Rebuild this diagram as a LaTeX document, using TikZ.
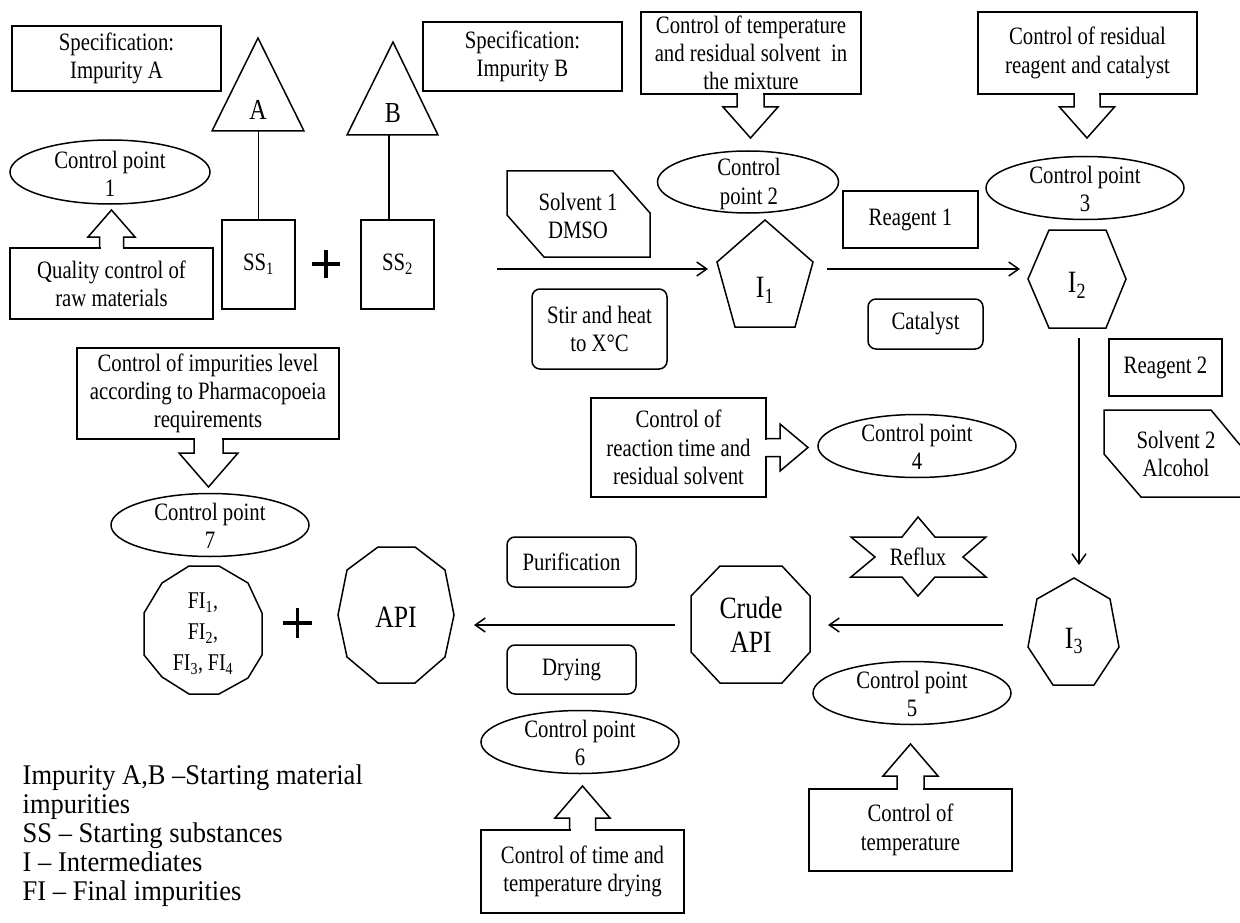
\documentclass[tikz,border=0pt]{standalone}
\usepackage{fontspec}
\setmainfont{Liberation Serif}
\newfontfamily\nf[FakeStretch=0.83]{Liberation Serif}
\newfontfamily\lf[FakeStretch=0.93]{Liberation Serif}
\usetikzlibrary{shapes.geometric,arrows.meta}
% vertical block arrow: cx, y at box edge, y head base, y tip, shaft half, head half
\newcommand{\vbarrow}[6]{%
  \fill[white] ({#1-#5+1},{#2-1.3}) rectangle ({#1+#5-1},{#2+1.3});
  \draw ({#1-#5},#2) -- ({#1-#5},#3) -- ({#1-#6},#3) -- (#1,#4) -- ({#1+#6},#3) -- ({#1+#5},#3) -- ({#1+#5},#2);}
% horizontal block arrow: cy, x at box edge, x head base, x tip, shaft half, head half
\newcommand{\hbarrow}[6]{%
  \fill[white] ({#2-1.3},{#1-#5+1}) rectangle ({#2+1.3},{#1+#5-1});
  \draw (#2,{#1-#5}) -- (#3,{#1-#5}) -- (#3,{#1-#6}) -- (#4,#1) -- (#3,{#1+#6}) -- (#3,{#1+#5}) -- (#2,{#1+#5});}
\begin{document}
\begin{tikzpicture}[x=1pt,y=-1pt, line width=1.5pt, line join=miter,
  txt/.style={font=\nf\fontsize{25}{28.3}\selectfont, align=center, inner sep=0pt},
  big/.style={font=\nf\fontsize{31}{34}\selectfont, align=center, inner sep=0pt},
  box/.style={draw, rectangle, inner sep=0pt, txt},
  rbox/.style={box, rounded corners=8pt},
  cpell/.style={draw, ellipse, inner sep=0pt, minimum width=198pt, minimum height=63pt},
  arr/.style={-{Straight Barb[length=10pt,width=14pt]}, line width=1.5pt},
  plus/.style={line width=3.5pt},
]
\useasboundingbox (0,0) rectangle (1240,923);

% ---- top left: specifications, starting substances
\node[box, minimum width=209pt, minimum height=65pt] (specA) at (116.5,58.5) {Specification:\\Impurity A};
\node[box, minimum width=199pt, minimum height=69pt] (specB) at (522.5,56.5) {Specification:\\Impurity B};

\draw (258,38) -- (304,131) -- (212,131) -- cycle;
\node[big, font=\nf\fontsize{29}{32}\selectfont] (tA) at (258,110) {A};
\draw (393,42) -- (438,135) -- (347,135) -- cycle;
\node[big, font=\nf\fontsize{29}{32}\selectfont] (tB) at (393,113) {B};

\node[box, minimum width=73pt, minimum height=89pt] (ss1) at (258.5,264.5) {SS\textsubscript{1}};
\node[box, minimum width=73pt, minimum height=89pt] (ss2) at (397.5,264.5) {SS\textsubscript{2}};
\coordinate (tAb) at (258.5,131);
\coordinate (tBb) at (389,135);
\draw (tAb) -- (ss1.north);
\draw (tBb) -- (tBb |- ss2.north);
\draw[plus] (312,264) -- (340,264) (326,250) -- (326,278);

\node[cpell, minimum width=200pt, minimum height=64pt] (cp1) at (110,172) {};
\node[txt] (cp1t) at (110,174) {Control point\\1};
\node[box, minimum width=203pt, minimum height=71pt] (qc) at (111.5,283.5) {Quality control of\\raw materials};
\vbarrow{111.5}{248}{237}{210}{12}{23.5}

% ---- top middle
\node[box, minimum width=220pt, minimum height=82pt] (tempbox) at (751,53) {Control of temperature\\and residual solvent\ \ in\\the mixture};
\vbarrow{750.5}{94}{107}{138}{13.5}{27.5}
\node[cpell, minimum width=181pt, minimum height=62pt] (cp2) at (748,182) {};
\node[txt] (cp2t) at (749,184) {Control\\point 2};

\draw (507,171) -- (613,171) -- (650,213) -- (650,257) -- (544,257) -- (507,215) -- cycle;
\node[txt] (solv1) at (578,216) {Solvent 1\\DMSO};
\node[rbox, minimum width=135pt, minimum height=80pt] (stir) at (599.5,329) {Stir and heat\\to X°C};

\draw (765,220) -- (813,262) -- (795,327) -- (735,327) -- (717,262) -- cycle;
\node[big] (i1) at (765,290) {I\textsubscript{1}};
\coordinate (s0) at (497,269);
\coordinate (i1w) at (708,269);
\draw[arr] (s0) -- (i1w);

\node[box, minimum width=135pt, minimum height=57pt] (reag1) at (910.5,219.5) {Reagent 1};
\node[rbox, minimum width=115pt, minimum height=50pt] (cat) at (925.5,324) {Catalyst};

% ---- top right
\node[box, minimum width=219pt, minimum height=82pt] (resbox) at (1087.5,53) {Control of residual\\reagent and catalyst};
\vbarrow{1087}{94}{107}{138}{13}{27.5}
\node[cpell] (cp3) at (1085,188) {};
\node[txt] (cp3t) at (1085,189) {Control point\\3};

\draw (1049,230) -- (1106,230) -- (1126,279) -- (1106,328) -- (1049,328) -- (1028,279) -- cycle;
\node[big] (i2) at (1077,285) {I\textsubscript{2}};
\coordinate (i1e) at (827,269);
\coordinate (i2w) at (1020,269);
\draw[arr] (i1e) -- (i2w);

\node[box, minimum width=113pt, minimum height=57pt] (reag2) at (1165.5,367.5) {Reagent 2};
\draw (1240,445) -- (1211,410) -- (1104,410) -- (1104,454) -- (1141,497) -- (1240,497);
\node[txt] (solv2) at (1176,454) {Solvent 2\\Alcohol};

% ---- middle
\node[box, minimum width=175pt, minimum height=99pt] (reac) at (678.5,447.5) {Control of\\reaction time and\\residual solvent};
\hbarrow{447.5}{766}{780}{808}{9}{23.5}
\node[cpell] (cp4) at (917,446) {};
\node[txt] (cp4t) at (917,447) {Control point\\4};

\draw (918,517) -- (935,537) -- (986,537) -- (963,557) -- (986,577) -- (935,577) -- (918,596)
  -- (902,577) -- (851,577) -- (875,557) -- (851,537) -- (902,537) -- cycle;
\node[txt] (reflux) at (918,557) {Reflux};

\draw (1074,578) -- (1110,599) -- (1119,647) -- (1094,685) -- (1053,685) -- (1028,647) -- (1037,599) -- cycle;
\node[big] (i3) at (1074,641) {I\textsubscript{3}};
\coordinate (i2s) at (1079,338);
\coordinate (i3n) at (1079,565);
\draw[arr] (i2s) -- (i3n);

\draw (720,566) -- (782,566) -- (810,596) -- (810,652) -- (782,683) -- (720,683) -- (691,652) -- (691,596) -- cycle;
\node[big] (crude) at (751,625) {Crude\\API};
\coordinate (i3w) at (1003,625);
\coordinate (crE) at (828,625);
\draw[arr] (i3w) -- (crE);

\node[cpell] (cp5) at (912,693) {};
\node[txt] (cp5t) at (912,694) {Control point\\5};
\node[box, minimum width=203pt, minimum height=82pt] (temp5) at (910.5,830) {Control of\\temperature};
\vbarrow{910.5}{789}{776}{744}{13.5}{27.5}

% ---- lower middle
\node[rbox, minimum width=129pt, minimum height=50pt] (purif) at (571.5,562) {Purification};
\node[rbox, minimum width=129pt, minimum height=49pt] (dry) at (571.5,669.5) {Drying};
\node[cpell] (cp6) at (580,742) {};
\node[txt] (cp6t) at (580,743) {Control point\\6};
\node[box, minimum width=203pt, minimum height=83pt] (drybox) at (582.5,871.5) {Control of time and\\temperature drying};
\vbarrow{582.5}{830}{818}{786}{13}{27.5}

\draw (378,547) -- (415,547) -- (445,570) -- (454,615) -- (445,657) -- (415,683) -- (378,683)
  -- (347,657) -- (338,615) -- (347,570) -- cycle;
\node[big] (api) at (396,617) {API};
\coordinate (crW) at (675,625);
\coordinate (apiE) at (474,625);
\draw[arr] (crW) -- (apiE);

% ---- left lower
\node[box, minimum width=262pt, minimum height=91pt] (impbox) at (208,393.5) {Control of impurities level\\according to Pharmacopoeia\\requirements};
\vbarrow{208.5}{439}{453}{487}{14.5}{29.5}
\node[cpell] (cp7) at (210,525) {};
\node[txt] (cp7t) at (210,526) {Control point\\7};

\draw (189,566) -- (219,566) -- (248,583) -- (262,613) -- (262,655) -- (248,678) -- (219,694)
  -- (189,694) -- (162,677) -- (144,655) -- (144,613) -- (162,583) -- cycle;
\node[txt, font=\nf\fontsize{24}{31}\selectfont] (fi) at (203,634) {FI\textsubscript{1},\\FI\textsubscript{2},\\FI\textsubscript{3}, FI\textsubscript{4}};
\draw[plus] (283,623) -- (312,623) (297.5,608) -- (297.5,638);

% ---- legend
\node[anchor=north west, inner sep=0pt, align=left, font=\lf\fontsize{28.5}{29}\selectfont] (legend) at (22,764)
  {Impurity A,B –Starting material\\impurities\\SS – Starting substances\\I – Intermediates\\FI – Final impurities};
\end{tikzpicture}
\end{document}
